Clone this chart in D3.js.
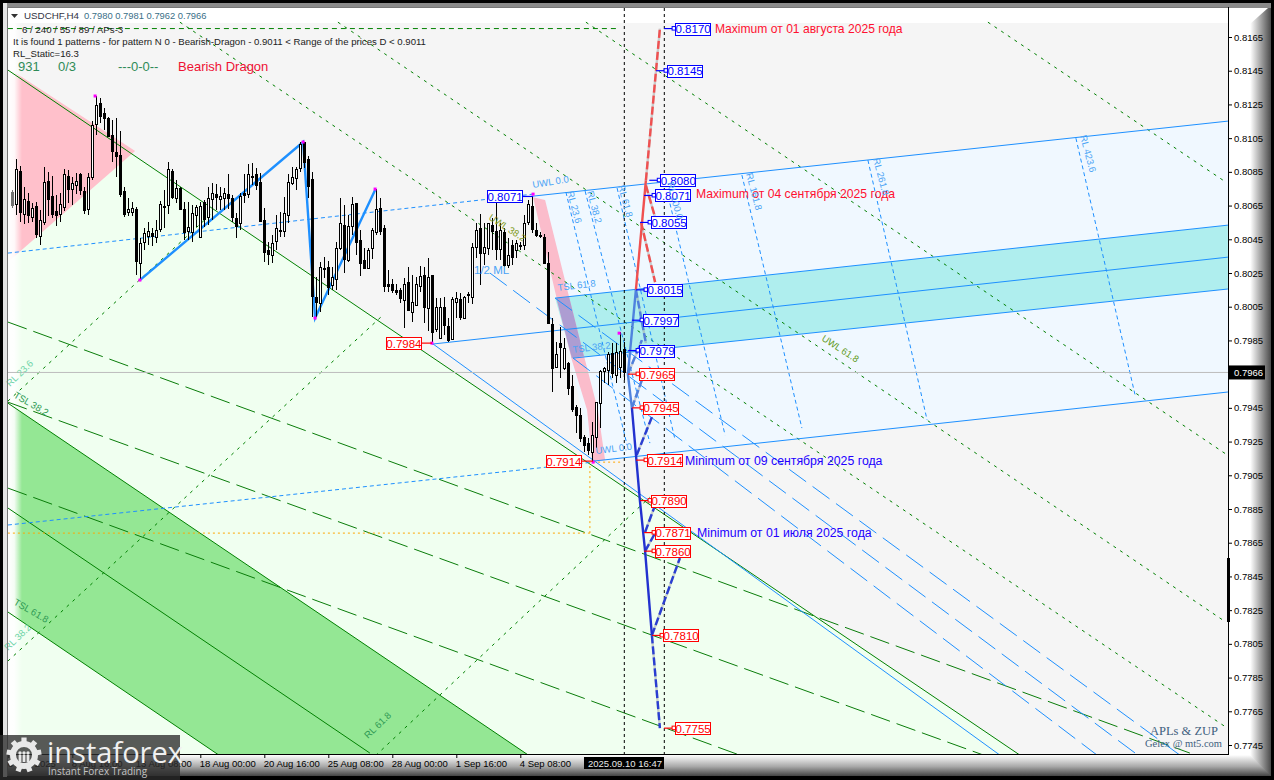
<!DOCTYPE html>
<html>
<head>
<meta charset="utf-8">
<script src="https://cdn.jsdelivr.net/npm/d3@7"></script>
<style>
html, body { margin: 0; padding: 0; background: #000; overflow: hidden; }
svg { display: block; font-family: "Liberation Sans", sans-serif; }
</style>
</head>
<body>
<div id="chart"></div>
<script>
// candles (bar 0 is the first candle on the left)
const opens = [
  .80730,.80659,.80855,.80600,.80677,.80582,.80647,.80469,.80552,.80795,
  .80706,.80617,.80600,.80641,.80825,.80748,.80771,.80837,.80736,.80629,
  .80819,.81133,.81258,.81199,.81169,.81068,.80967,.80950,.80736,.80611,
  .80611,.80629,.80309,.80433,.80469,.80487,.80463,.80511,.80647,.80653,
  .80855,.80694,.80754,.80629,.80499,.80493,.80594,.80463,.80671,.80582,
  .80688,.80718,.80688,.80694,.80718,.80694,.80576,.80546,.80724,.80718,
  .80825,.80837,.80789,.80564,.80386,.80356,.80439,.80505,.80499,.80594,
  .80783,.80813,.80872,.81027,.80926,.80807,.80107,.80072,.80279,.80285,
  .80178,.80214,.80398,.80534,.80327,.80528,.80665,.80445,.80327,.80279,
  .80398,.80493,.80635,.80517,.80184,.80184,.80149,.80149,.80089,.80196,
  .80018,.80060,.80172,.80238,.80042,.80238,.79917,.79864,.80048,.79935,
  .79858,.80077,.80095,.79983,.80125,.80107,.80404,.80517,.80368,.80398,
  .80534,.80499,.80392,.80493,.80297,.80416,.80386,.80416,.80416,.80552,
  .80647,.80505,.80475,.80463,.80309,.79947,.79692,.79834,.79686,.79716,
  .79579,.79455,.79407,.79277,.79241,.79188,.79277,.79478,.79668,.79674,
  .79775,.79644,.79692,.7980
];
const highs = [
  .80742,.80926,.80884,.80760,.80724,.80665,.80671,.80623,.80878,.80849,
  .80825,.80712,.80724,.80866,.80861,.80819,.80843,.80843,.80760,.80843,
  .81151,.81300,.81288,.81228,.81175,.81157,.81169,.81092,.80760,.80694,
  .80671,.80641,.80457,.80517,.80552,.80517,.80564,.80677,.80742,.80908,
  .80866,.80801,.80760,.80671,.80671,.80653,.80653,.80671,.80683,.80760,
  .80783,.80777,.80760,.80754,.80837,.80712,.80605,.80724,.80837,.80896,
  .80902,.80872,.80843,.80635,.80433,.80475,.80594,.80611,.80700,.80837,
  .80878,.80878,.81027,.81027,.80944,.80849,.80226,.80315,.80344,.80321,
  .80285,.80433,.80694,.80653,.80594,.80700,.80665,.80505,.80398,.80398,
  .80517,.80748,.80694,.80534,.80267,.80214,.80184,.80161,.80220,.80285,
  .80238,.80226,.80291,.80285,.80339,.80238,.80101,.80101,.80107,.79983,
  .80107,.80137,.80131,.80113,.80137,.80428,.80546,.80600,.80546,.80546,
  .80576,.80671,.80546,.80517,.80457,.80445,.80445,.80433,.80594,.80683,
  .80700,.80546,.80493,.80481,.80374,.79983,.79840,.79929,.79864,.79722,
  .79644,.79467,.79449,.79288,.79271,.79366,.79484,.79674,.79692,.79781,
  .79834,.79834,.79900,.79840
];
const lows = [
  .80635,.80594,.80552,.80540,.80546,.80552,.80457,.80416,.80534,.80588,
  .80576,.80528,.80552,.80617,.80665,.80653,.80718,.80712,.80600,.80594,
  .80801,.81068,.81139,.81098,.81056,.80908,.80819,.80700,.80582,.80588,
  .80588,.80238,.80208,.80386,.80416,.80410,.80428,.80493,.80517,.80600,
  .80688,.80665,.80623,.80445,.80445,.80433,.80522,.80463,.80522,.80534,
  .80564,.80623,.80623,.80623,.80629,.80552,.80457,.80505,.80665,.80694,
  .80771,.80742,.80552,.80315,.80297,.80309,.80386,.80463,.80463,.80546,
  .80771,.80742,.80849,.80872,.80694,.79989,.79989,.80018,.80220,.80119,
  .80149,.80149,.80386,.80250,.80315,.80475,.80356,.80232,.80273,.80273,
  .80333,.80475,.80475,.80137,.80137,.80131,.80119,.80072,.79923,.80030,
  .79959,.80060,.80137,.79953,.79905,.79834,.79900,.79864,.79882,.79840,
  .79852,.79983,.79971,.79977,.80072,.80066,.80339,.80178,.80297,.80356,
  .80386,.80327,.80327,.80285,.80279,.80297,.80339,.80386,.80386,.80534,
  .80487,.80463,.80457,.80309,.79953,.79544,.79686,.79627,.79674,.79526,
  .79425,.79300,.79247,.79188,.79170,.79128,.79212,.79330,.79597,.79585,
  .79627,.79597,.79627,.79615
];
const closes = [
  .80653,.80866,.80611,.80688,.80594,.80635,.80481,.80564,.80789,.80688,
  .80600,.80594,.80659,.80837,.80748,.80783,.80795,.80742,.80623,.80819,
  .81127,.81246,.81181,.81169,.81062,.80973,.80944,.80718,.80600,.80629,
  .80635,.80321,.80428,.80487,.80499,.80469,.80505,.80659,.80641,.80866,
  .80700,.80754,.80629,.80493,.80522,.80605,.80641,.80647,.80570,.80694,
  .80724,.80700,.80706,.80724,.80694,.80582,.80528,.80706,.80712,.80837,
  .80819,.80771,.80558,.80374,.80362,.80428,.80517,.80499,.80605,.80789,
  .80819,.80866,.81015,.80908,.80766,.80113,.80077,.80285,.80273,.80166,
  .80226,.80398,.80546,.80333,.80528,.80659,.80433,.80309,.80279,.80386,
  .80505,.80629,.80499,.80172,.80172,.80149,.80137,.80101,.80184,.80030,
  .80077,.80184,.80232,.80048,.80226,.79900,.80048,.80048,.79941,.79852,
  .80095,.80101,.79989,.80107,.80119,.80404,.80505,.80368,.80404,.80546,
  .80499,.80392,.80505,.80297,.80356,.80344,.80428,.80410,.80546,.80659,
  .80511,.80475,.80469,.80309,.79953,.79686,.79769,.79811,.79805,.79567,
  .79443,.79407,.79271,.79229,.79200,.79288,.79484,.79668,.79686,.79769,
  .79656,.79781,.79787,.7966
];

// axes
const yTicks = d3.range(0, 22).map(i => 0.7745 + i * 0.002);
const timeBars = [-1, 15, 31, 47, 63, 79, 95, 111, 127];
const timeLabels = ["6 Aug 2025", "8 Aug 16:00", "13 Aug 08:00", "18 Aug 00:00", "20 Aug 16:00",
  "25 Aug 08:00", "28 Aug 00:00", "1 Sep 16:00", "4 Sep 08:00"];
const lastPrice = 0.7966;

// filled zones, [bar, price]
const pinkZone = [[-1.1, .81466], [30.7, .80973], [-1.1, .80315]];
const greenZone = [[-1.1, .81454], [251.9, .77390], [-1.1, .77390]];
const bandZone = [[-1.1, .79478], [131.2, .77355], [52.4, .77378], [-1.1, .78239]];
const blueZone = [[130.2, .80706], [303.9, .81151], [303.9, .79544], [145.2, .79134]];
const cyanZone = [[135.7, .80101], [303.9, .80534], [303.9, .80155], [139.9, .79745]];
const dragonBand = [[130.2, .80700], [136.2, .80089], [139.9, .79733], [143.7, .79437], [145, .79128],
  [148.2, .79140], [146.4, .79437], [143.2, .79733], [139.4, .80089], [133.2, .80683]];
const dragonOverlap = [[136, .80101], [139.2, .80107], [142.9, .79757], [139.9, .79745]];

// thin lines, [bar, price] pairs
const greenSolid = [
  [[-1.1, .81454], [251.9, .77390]],
  [[-1.1, .79478], [131.2, .77355]],
  [[-1.1, .78856], [89.4, .77402]],
  [[-1.1, .78239], [52.4, .77378]]
];
const greenLong = [
  [[-1.1, .79959], [294.4, .77402]],
  [[-1.1, .79484], [246.9, .77355]],
  [[-1.1, .78974], [185.9, .77355]]
];
const greenDotted = [
  [[243.9, .81738], [303.4, .80789]],
  [[143.4, .81738], [303.4, .79176]],
  [[81.4, .81738], [303.4, .78179]],
  [[41.9, .81738], [303.4, .77556]],
  [[-1.1, .79490], [50.2, .80611]],
  [[-1.1, .77948], [92.4, .79994]],
  [[89.4, .77355], [159.4, .78921]]
];
const greenHeaderLine = [[[-1.1, .8170], [151.5, .8170]]];
const blueSolid = [
  [[130.2, .80706], [303.9, .81151]],
  [[135.7, .80101], [303.9, .80534]],
  [[104.9, .79828], [303.9, .80344]],
  [[140.2, .79745], [303.9, .80155]],
  [[145.2, .79134], [303.9, .79544]],
  [[104.9, .79834], [246.9, .77390]]
];
const blueLong = [
  [[135.7, .80101], [291.9, .77390]],
  [[119.4, .80250], [281.4, .77390]],
  [[140.2, .79745], [271.2, .77390]]
];
const blueShort = [
  [[-1.1, .80368], [130.2, .80718]],
  [[-1.1, .78755], [145.2, .79128]],
  [[138.4, .80730], [153.7, .79229]],
  [[143.2, .80736], [159.4, .79241]],
  [[151.2, .80754], [165.7, .79259]],
  [[163.2, .80783], [178.2, .79288]],
  [[182.4, .80831], [197.4, .79330]],
  [[213.9, .80920], [228.7, .79378]],
  [[265.9, .81050], [280.7, .79526]]
];
const orangeDashed = [
  [[-1.1, .78707], [144.4, .78707]],
  [[144.4, .78707], [144.4, .79128]],
  [[145.2, .79128], [152.4, .79128]]
];
const timeMarkers = [153, 163];

// zigzag and pivots
const zigzag = [[31.9, .80208], [72.7, .81027], [75.7, .79983], [90.7, .80742]];
const pivots = [[20.7, .81300], [31.9, .80208], [72.7, .81027], [75.7, .79983], [90.7, .80748],
  [104.9, .79834], [130.2, .80718], [145.2, .79128], [151.7, .79893]];

// forecast legs
const redSolid = [[155.9, .8015], [158.4, .8080]];
const redDashed = [
  [[158.4, .8080], [161.9, .8170]],
  [[158.4, .8077], [160.7, .8058]],
  [[157.2, .8055], [160.7, .80196]]
];
const blueUpper = [[155.9, .8015], [153.9, .7965], [154.9, .7945]];
const blueLower = [[154.9, .7945], [156.9, .7890], [158.2, .7860], [159.9, .7810]];
const blueDashed = [
  [[159.9, .7810], [161.9, .7755]],
  [[155.9, .8015], [158.4, .79834]],
  [[153.9, .7965], [157.4, .79852]],
  [[154.9, .7945], [157.4, .79615]],
  [[156.1, .79170], [159.9, .79395]],
  [[158.2, .78713], [160.7, .78873]],
  [[158.2, .7860], [160.7, .78707]],
  [[159.9, .7810], [166.9, .78559]]
];

// price tags to the right of the forecast: value and bar of the box's left side
const bluePrices = [.8170, .8145, .8080, .8071, .8055, .8015, .7997, .7979];
const blueTagBars = [165.7, 163.7, 162, 160.7, 159.7, 158.7, 157.7, 156.7];
const redPrices = [.7965, .7945, .7914, .7890, .7871, .7860, .7810, .7755];
const redTagBars = [156.7, 157.7, 158.7, 159.7, 160.7, 160.7, 162.7, 165.7];
// pivots tags to the left: value, box bar, pivot bar
const pivotPrices = [.8071, .7984, .7914];
const pivotTagBars = [118.7, 93.4, 133.4];
const pivotBars = [130.2, 104.9, 145.2];
const pivotColors = ["#0000ff", "#ff0000", "#ff0000"];

const width = 1274, height = 780;
const x = d3.scaleLinear().domain([0, 153]).range([12.3, 624.3]);
const y = d3.scaleLinear().domain([0.7745, 0.8165]).range([745, 37]);
const path = d3.line().x(d => x(d[0])).y(d => y(d[1]));
const area = pts => path(pts) + "Z";

const svg = d3.select("#chart").append("svg").attr("width", width).attr("height", height);
const defs = svg.append("defs");

function gradient(id, x2, y2, stops) {
  const g = defs.append("linearGradient").attr("id", id)
    .attr("x1", 0).attr("y1", 0).attr("x2", x2).attr("y2", y2);
  stops.forEach(s => g.append("stop").attr("offset", s[0]).attr("stop-color", s[1]).attr("stop-opacity", s[2]));
}
gradient("fadeLeft", 1, 0, [[0, "#fff", 1], [0.45, "#fff", 0.9], [1, "#fff", 0]]);
gradient("bevelRight", 1, 0, [[0, "#fff", 1], [0.52, "#fff", 1], [1, "#4a4a4a", 1]]);
gradient("bevelBottom", 0, 1, [[0, "#fff", 1], [0.55, "#a8a8a8", 1], [1, "#444", 1]]);

defs.append("clipPath").attr("id", "plot").append("rect")
  .attr("x", 8).attr("y", 8).attr("width", 1220).attr("height", 746);
defs.append("clipPath").attr("id", "zones").append("rect")
  .attr("x", 8).attr("y", 23).attr("width", 1220).attr("height", 731);

// window frame
svg.append("rect").attr("width", width).attr("height", height).attr("fill", "#000");
svg.append("rect").attr("x", 3).attr("y", 3).attr("width", 1268).attr("height", 5).attr("fill", "#8a8a8a");
svg.append("rect").attr("x", 3).attr("y", 3).attr("width", 4).attr("height", 774).attr("fill", "#e4e4e4");
svg.append("rect").attr("x", 7).attr("y", 7).attr("width", 1222).attr("height", 748).attr("fill", "#fff");
svg.append("rect").attr("x", 1228).attr("y", 8).attr("width", 43).attr("height", 768).attr("fill", "url(#bevelRight)");
svg.append("polygon").attr("points", "1228,8 1268,8 1250,24 1228,24").attr("fill", "#fff");
svg.append("polygon").attr("points", "7,755 1250,755 1271,776 7,776").attr("fill", "url(#bevelBottom)");

// zones
const zones = svg.append("g").attr("clip-path", "url(#zones)");
zones.append("rect").attr("x", 8).attr("y", 23).attr("width", 1220).attr("height", 731).attr("fill", "#f5f5f5");
zones.append("path").attr("d", area(blueZone)).attr("fill", "#f0f8ff");
zones.append("path").attr("d", area(greenZone)).attr("fill", "#f0fff0");
zones.append("path").attr("d", area(pinkZone)).attr("fill", "#ffc0cb");
zones.append("path").attr("d", area(bandZone)).attr("fill", "#94e794");
zones.append("path").attr("d", area(cyanZone)).attr("fill", "#afeeee");
zones.append("path").attr("d", area(dragonBand)).attr("fill", "#fbbccb");
zones.append("path").attr("d", area(dragonOverlap)).attr("fill", "#ad9dd2");
zones.append("rect").attr("x", 8).attr("y", 23).attr("width", 14).attr("height", 731).attr("fill", "url(#fadeLeft)");

// trend lines
const plot = svg.append("g").attr("clip-path", "url(#plot)");
function drawLines(lines, color, dash, w) {
  plot.selectAll(null).data(lines).enter().append("path")
    .attr("d", path).attr("fill", "none").attr("stroke", color)
    .attr("stroke-width", w || 1).attr("stroke-dasharray", dash);
}
drawLines(greenLong, "#0a7d0a", "20,7");
drawLines(greenDotted, "#008000", "3,5");
drawLines(greenHeaderLine, "#008000", "5,4");
drawLines(greenSolid, "#008000", null);
drawLines(blueLong, "#1e90ff", "21,8");
drawLines(blueShort, "#1e90ff", "4,3");
drawLines(blueSolid, "#1e90ff", null);
drawLines(orangeDashed, "#ffa500", "2,3");

// last price line
plot.append("line").attr("x1", 8).attr("x2", 1228).attr("y1", y(lastPrice)).attr("y2", y(lastPrice))
  .attr("stroke", "#bdbdbd");

// vertical time markers
plot.selectAll(null).data(timeMarkers).enter().append("line")
  .attr("x1", d => x(d)).attr("x2", d => x(d)).attr("y1", 8).attr("y2", 754)
  .attr("stroke", "#000").attr("stroke-dasharray", "3,3");

// zigzag
plot.append("path").attr("d", path(zigzag)).attr("fill", "none").attr("stroke", "#1e90ff").attr("stroke-width", 2.4);

// candles
const candles = plot.append("g");
opens.forEach((o, i) => {
  const cx = Math.floor(x(i)) + 0.5;
  const c = closes[i];
  const top = Math.round(y(Math.max(o, c))) + 0.5;
  const bottom = Math.round(y(Math.min(o, c))) + 0.5;
  const g = candles.append("g").attr("opacity", i === 0 ? 0.55 : 1).attr("shape-rendering", "crispEdges");
  g.append("line").attr("x1", cx).attr("x2", cx).attr("y1", y(highs[i])).attr("y2", y(lows[i])).attr("stroke", "#000");
  g.append("rect").attr("x", cx - 1).attr("y", top).attr("width", 2).attr("height", Math.max(bottom - top, 1))
    .attr("fill", c >= o ? "#fff" : "#000").attr("stroke", "#000");
});

// pivot dots
plot.selectAll(null).data(pivots).enter().append("rect")
  .attr("x", d => x(d[0]) - 1.5).attr("y", d => y(d[1]) - 1.5).attr("width", 3).attr("height", 3)
  .attr("fill", "#ff00ff");

// forecast legs
function drawLeg(pts, color, dashed) {
  if (dashed) {
    plot.append("path").attr("d", path(pts)).attr("fill", "none").attr("stroke", "#9a9a9a")
      .attr("stroke-width", 2.4).attr("opacity", 0.45);
  }
  plot.append("path").attr("d", path(pts)).attr("fill", "none").attr("stroke", color)
    .attr("stroke-width", 2.4).attr("stroke-dasharray", dashed ? "8,3" : null);
}
drawLeg(redSolid, "#f05050");
redDashed.forEach(d => drawLeg(d, "#f05050", true));
blueDashed.forEach((d, i) => drawLeg(d, i === 1 || i === 2 || i === 3 ? "#4f7fdc" : "#2a3ed2", true));
drawLeg(blueUpper, "#4f82de");
drawLeg(blueLower, "#2231cf");

// price tags
function tag(value, bar, color) {
  const left = x(bar);
  const cy = y(value);
  svg.append("line").attr("x1", left - 11).attr("x2", left).attr("y1", cy).attr("y2", cy).attr("stroke", color).attr("stroke-width", 1.2);
  svg.append("rect").attr("x", left - 3).attr("y", cy - 2).attr("width", 3.5).attr("height", 3.5).attr("fill", "#fff").attr("stroke", color);
  box(value, left, cy, color);
}
function box(value, left, cy, color) {
  svg.append("rect").attr("x", Math.round(left) + 0.5).attr("y", Math.round(cy) - 5.5).attr("width", 35).attr("height", 12)
    .attr("fill", "#fff").attr("stroke", color);
  svg.append("text").attr("x", left + 18).attr("y", cy + 4.4).attr("text-anchor", "middle")
    .attr("font-size", 11.5).attr("fill", color).text(d3.format(".4f")(value));
}
bluePrices.forEach((v, i) => tag(v, blueTagBars[i], "#0000ff"));
redPrices.forEach((v, i) => tag(v, redTagBars[i], "#ff0000"));
pivotPrices.forEach((v, i) => {
  const left = x(pivotTagBars[i]);
  svg.append("line").attr("x1", left + 35).attr("x2", x(pivotBars[i])).attr("y1", y(v) + 1).attr("y2", y(v) + 1)
    .attr("stroke", pivotColors[i]).attr("stroke-width", 1.2);
  box(v, left, y(v) + 1, pivotColors[i]);
});

// annotations
function note(str, px, py, color, size, rotate, family, weight) {
  svg.append("text").attr("x", px).attr("y", py).attr("fill", color).attr("font-size", size || 12)
    .attr("transform", rotate ? "rotate(" + rotate + " " + px + " " + py + ")" : null)
    .attr("font-family", family || null).attr("font-weight", weight || null).text(str);
}
note("Maximum от 01 августа 2025 года", 715, 33, "#ff1030", 12.1);
note("Maximum от 04 сентября 2025 года", 696, 198, "#ff1030", 12.2);
note("Minimum от 09 сентября 2025 года", 685, 465, "#2200ff", 12.3);
note("Minimum от 01 июля 2025 года", 697, 537, "#2200ff", 12.3);

const fibBlue = "#4aa3f5", fibSize = 9.5;
note("UWL 0.0", 533, 188, fibBlue, fibSize, -9);
note("RL 23.6", 567, 192, fibBlue, fibSize, 75);
note("RL 38.2", 587, 192, fibBlue, fibSize, 75);
note("RL 61.8", 618, 186, fibBlue, fibSize, 75);
note("RL 100.0", 667, 183, fibBlue, fibSize, 75);
note("RL 161.8", 746, 174, fibBlue, fibSize, 75);
note("RL 261.8", 873, 159, fibBlue, fibSize, 75);
note("RL 423.6", 1080, 136, fibBlue, fibSize, 75);
note("TSL 61.8", 558, 291, fibBlue, fibSize, -7);
note("TSL 38.2", 573, 353, fibBlue, fibSize, -7);
note("UWL 0.0", 596, 454, fibBlue, fibSize, -7);
note("1/2 ML", 474, 274, fibBlue, 11.5);
note("UWL 61.8", 821, 340, "#5f9a22", 9.5, 33);
note("UWL 38.2", 488, 219, "#7f9a22", 9.5, 33);
note("RL 23.6", 10, 387, "#6fd4a8", 9.5, -44);
note("TSL 38.2", 13, 397, "#2f9a55", 9.5, 30);
note("TSL 61.8", 13, 604, "#2f9a55", 9.5, 30);
note("RL 38.2", 8, 651, "#6fd4a8", 9.5, -44);
note("RL 61.8", 368, 739, "#2f9a55", 9.5, -44);

// header text
note("USDCHF,H4", 24, 19, "#334", 9.8);
note("0.7980 0.7981 0.7962 0.7966", 84, 19, "#3a6f88", 9.4);
note("6 / 240 / 55 / 89 / APs-3", 22, 33, "#222", 9.7);
note("It is found 1 patterns  -  for pattern N 0 - Bearish-Dragon - 0.9011 < Range of the prices D < 0.9011", 13, 45, "#222", 9.6);
note("RL_Static=16.3", 13, 57, "#222", 9.6);
note("931", 18, 71, "#2e8b57", 13);
note("0/3", 58, 71, "#2e8b57", 13);
note("---0-0--", 118, 71, "#2e8b57", 13);
note("Bearish Dragon", 178, 71, "#ee1133", 13);
svg.append("path").attr("d", "M11,14 h7 l-3.5,4 Z").attr("fill", "#333");
note("APLs & ZUP", 1150, 735, "#41617e", 12.5, null, "Liberation Serif");
note("Gelex @ mt5.com", 1145, 747, "#41617e", 10.5, null, "Liberation Serif");

// axes
const yAxis = d3.axisRight(y).tickValues(yTicks).tickSize(4).tickPadding(2).tickFormat(d3.format(".4f"));
const yG = svg.append("g").attr("transform", "translate(1228,0)").call(yAxis);
yG.select(".domain").remove();
yG.selectAll("text").attr("font-size", 9.5).attr("font-family", "Liberation Sans").attr("fill", "#000");
yG.selectAll("line").attr("stroke", "#000");

const xAxis = d3.axisBottom(x).tickValues(timeBars).tickSize(4).tickPadding(2).tickFormat((d, i) => timeLabels[i]);
const xG = svg.append("g").attr("transform", "translate(0,754)").call(xAxis);
xG.select(".domain").remove();
xG.selectAll("text").attr("font-size", 9.5).attr("font-family", "Liberation Sans").attr("fill", "#000")
  .attr("text-anchor", "start").attr("dx", -1);
xG.selectAll("line").attr("stroke", "#000");

svg.append("line").attr("x1", 8).attr("x2", 1228.5).attr("y1", 754.5).attr("y2", 754.5).attr("stroke", "#000");
svg.append("line").attr("x1", 1228.5).attr("x2", 1228.5).attr("y1", 7).attr("y2", 755).attr("stroke", "#000");
svg.append("line").attr("x1", 7).attr("x2", 1228).attr("y1", 7.5).attr("y2", 7.5).attr("stroke", "#777");
svg.append("line").attr("x1", 7.5).attr("x2", 7.5).attr("y1", 7).attr("y2", 776).attr("stroke", "#777");
svg.append("rect").attr("x", 1227).attr("y", 558).attr("width", 3).attr("height", 64).attr("fill", "#000");

// last price tag and crosshair time
svg.append("rect").attr("x", 1229).attr("y", y(lastPrice) - 7).attr("width", 36).attr("height", 14).attr("fill", "#000");
svg.append("text").attr("x", 1234).attr("y", y(lastPrice) + 3.5).attr("fill", "#fff").attr("font-size", 9.5).text("0.7966");
svg.append("rect").attr("x", 584).attr("y", 757).attr("width", 80).attr("height", 12).attr("fill", "#000");
svg.append("text").attr("x", 588).attr("y", 767).attr("fill", "#e8e8e8").attr("font-size", 9.5).text("2025.09.10 16:47");

// broker logo
const logo = svg.append("g");
logo.append("rect").attr("x", 0).attr("y", 735).attr("width", 180).attr("height", 45).attr("fill", "#2c2c2c").attr("opacity", 0.78);
const gear = logo.append("g").attr("transform", "translate(24,755)");
gear.append("path").attr("d", d3.arc()({ innerRadius: 8, outerRadius: 14, startAngle: 0, endAngle: 2 * Math.PI })).attr("fill", "#e8e8e8");
d3.range(9).forEach(i => {
  gear.append("rect").attr("x", -2.6).attr("y", -17.5).attr("width", 5.2).attr("height", 6)
    .attr("fill", "#e8e8e8").attr("transform", "rotate(" + i * 40 + ")");
});
[-4, 0, 4].forEach(dx => {
  gear.append("circle").attr("cx", dx).attr("cy", -2).attr("r", 1.7).attr("fill", "#e8e8e8");
  gear.append("rect").attr("x", dx - 1.4).attr("y", 0).attr("width", 2.8).attr("height", 7).attr("fill", "#e8e8e8");
});
logo.append("text").attr("x", 47).attr("y", 763).attr("fill", "#f0f0f0").attr("font-size", 29)
  .attr("font-family", "Open Sans").text("instaforex");
logo.append("text").attr("x", 48).attr("y", 775).attr("fill", "#c4c4c4").attr("font-size", 10)
  .attr("font-family", "Open Sans").text("Instant Forex Trading");
</script>
</body>
</html>
